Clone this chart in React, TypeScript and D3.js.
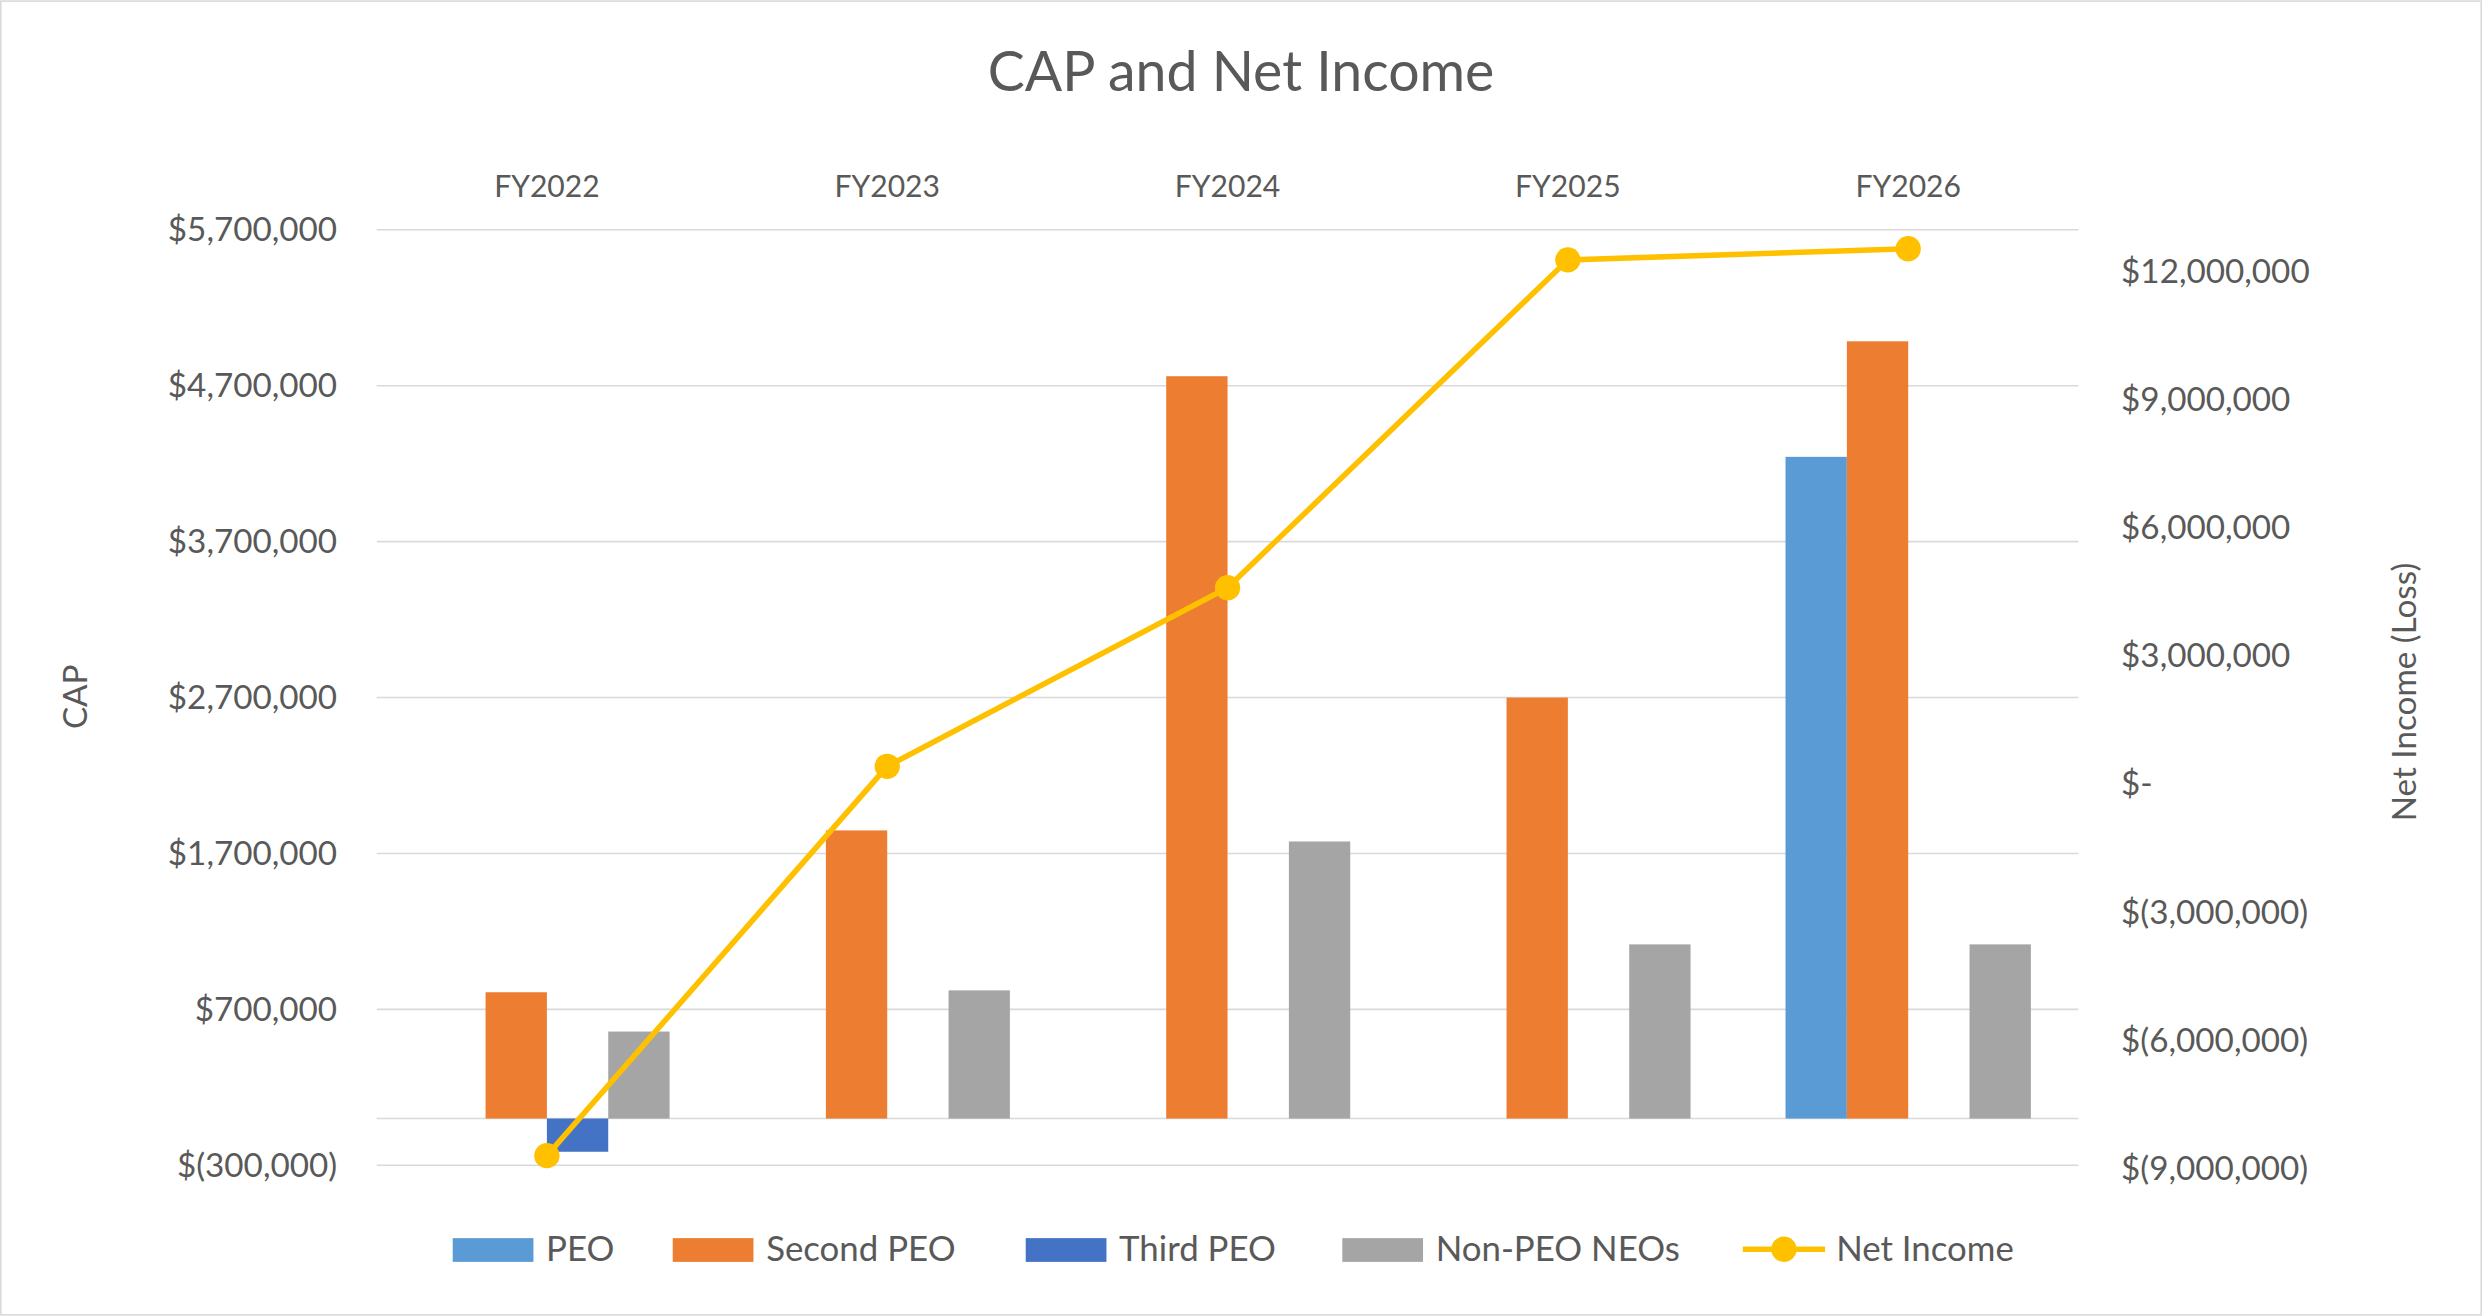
import { useRef, useEffect } from "react";
import * as d3 from "d3";

const years = ["FY2022", "FY2023", "FY2024", "FY2025", "FY2026"];
const peo = [null, null, null, null, 4244000];
const secondPeo = [810000, 1848000, 4761000, 2700000, 4985000];
const thirdPeo = [-213000, null, null, null, null];
const nonPeo = [558000, 822000, 1777000, 1117000, 1117000];
const netIncome = [-8700000, 410000, 4590000, 12260000, 12520000];
const leftTicks = [-300000, 700000, 1700000, 2700000, 3700000, 4700000, 5700000];
const rightTicks = [-9000000, -6000000, -3000000, 0, 3000000, 6000000, 9000000, 12000000];

const series = [
  { label: "PEO", values: peo, color: "#5B9BD5" },
  { label: "Second PEO", values: secondPeo, color: "#ED7D31" },
  { label: "Third PEO", values: thirdPeo, color: "#4472C4" },
  { label: "Non-PEO NEOs", values: nonPeo, color: "#A5A5A5" },
];

const W = 1568, H = 831;
const FONT = "Lato, 'Open Sans', sans-serif";

const fmtL = (v: number) =>
  v < 0 ? `$(${d3.format(",")(-v)})` : `$${d3.format(",")(v)}`;
const fmtR = (v: number) =>
  v === 0 ? "$-" : v < 0 ? `$(${d3.format(",")(-v)})` : `$${d3.format(",")(v)}`;

export default function App() {
  const ref = useRef<SVGSVGElement>(null);

  useEffect(() => {
    document.body.style.margin = "0";
    if (!ref.current) return;
    const svg = d3.select(ref.current);
    svg.selectAll("*").remove();
    const left = 238, right = 1313;

    svg.append("rect").attr("x", 0.5).attr("y", 0.5).attr("width", W - 1).attr("height", H - 1)
      .attr("fill", "white").attr("stroke", "#d9d9d9");

    const x = d3.scaleBand().domain(years).range([left, right]);
    const xs = d3.scaleBand().domain(series.map(s => s.label)).range([30, x.bandwidth() - 30]);
    const yL = d3.scaleLinear().domain([-300000, 5700000]).range([736, 145]);
    const yR = d3.scaleLinear().domain([-9000000, 12000000]).range([738, 171]);

    svg.append("text").attr("x", W / 2).attr("y", 57).attr("text-anchor", "middle")
      .attr("font-size", 35).attr("fill", "#595959").attr("font-family", FONT).text("CAP and Net Income");

    const gl = svg.append("g").attr("font-family", FONT);
    leftTicks.forEach(t => {
      gl.append("line").attr("x1", left).attr("x2", right).attr("y1", yL(t)).attr("y2", yL(t))
        .attr("stroke", "#d9d9d9");
      gl.append("text").attr("x", 213).attr("y", yL(t)).attr("dy", "0.35em").attr("text-anchor", "end")
        .attr("font-size", 21).attr("fill", "#595959").text(fmtL(t));
    });
    gl.append("line").attr("x1", left).attr("x2", right).attr("y1", yL(0)).attr("y2", yL(0))
      .attr("stroke", "#d9d9d9");
    rightTicks.forEach(t => {
      gl.append("text").attr("x", 1340).attr("y", yR(t)).attr("dy", "0.35em")
        .attr("font-size", 21).attr("fill", "#595959").text(fmtR(t));
    });
    years.forEach(yr => {
      gl.append("text").attr("x", x(yr)! + x.bandwidth() / 2).attr("y", 124).attr("text-anchor", "middle")
        .attr("font-size", 19).attr("fill", "#595959").text(yr);
    });
    gl.append("text").attr("transform", "translate(55,440) rotate(-90)").attr("text-anchor", "middle")
      .attr("font-size", 21).attr("fill", "#595959").text("CAP");
    gl.append("text").attr("transform", "translate(1526,437) rotate(-90)").attr("text-anchor", "middle")
      .attr("font-size", 21).attr("fill", "#595959").text("Net Income (Loss)");

    series.forEach(s => {
      s.values.forEach((v, i) => {
        if (v == null) return;
        const bx = x(years[i])! + xs(s.label)!;
        svg.append("rect").attr("x", bx).attr("width", xs.bandwidth())
          .attr("y", Math.min(yL(v), yL(0))).attr("height", Math.abs(yL(v) - yL(0)))
          .attr("fill", s.color);
      });
    });

    const cx = (i: number) => x(years[i])! + x.bandwidth() / 2;
    const line = d3.line<number>().x((_, i) => cx(i)).y(d => yR(d));
    svg.append("path").datum(netIncome).attr("d", line).attr("fill", "none")
      .attr("stroke", "#FFC000").attr("stroke-width", 3.5);
    netIncome.forEach((v, i) => {
      svg.append("circle").attr("cx", cx(i)).attr("cy", yR(v)).attr("r", 8).attr("fill", "#FFC000");
    });

    const lg = svg.append("g").attr("font-family", FONT).attr("font-size", 22).attr("fill", "#595959");
    const items = [
      { label: "PEO", x: 286 },
      { label: "Second PEO", x: 425 },
      { label: "Third PEO", x: 648 },
      { label: "Non-PEO NEOs", x: 848 },
    ];
    items.forEach((it, i) => {
      lg.append("rect").attr("x", it.x).attr("y", 782).attr("width", 51).attr("height", 15)
        .attr("fill", series[i].color);
      lg.append("text").attr("x", it.x + 59).attr("y", 789).attr("dy", "0.35em").text(it.label);
    });
    lg.append("line").attr("x1", 1101).attr("x2", 1153).attr("y1", 789).attr("y2", 789)
      .attr("stroke", "#FFC000").attr("stroke-width", 3.5);
    lg.append("circle").attr("cx", 1127).attr("cy", 789).attr("r", 8).attr("fill", "#FFC000");
    lg.append("text").attr("x", 1160).attr("y", 789).attr("dy", "0.35em").text("Net Income");
  }, []);

  return <svg ref={ref} width={2482} height={1316} viewBox={`0 0 ${W} ${H}`} style={{ display: "block" }} />;
}
